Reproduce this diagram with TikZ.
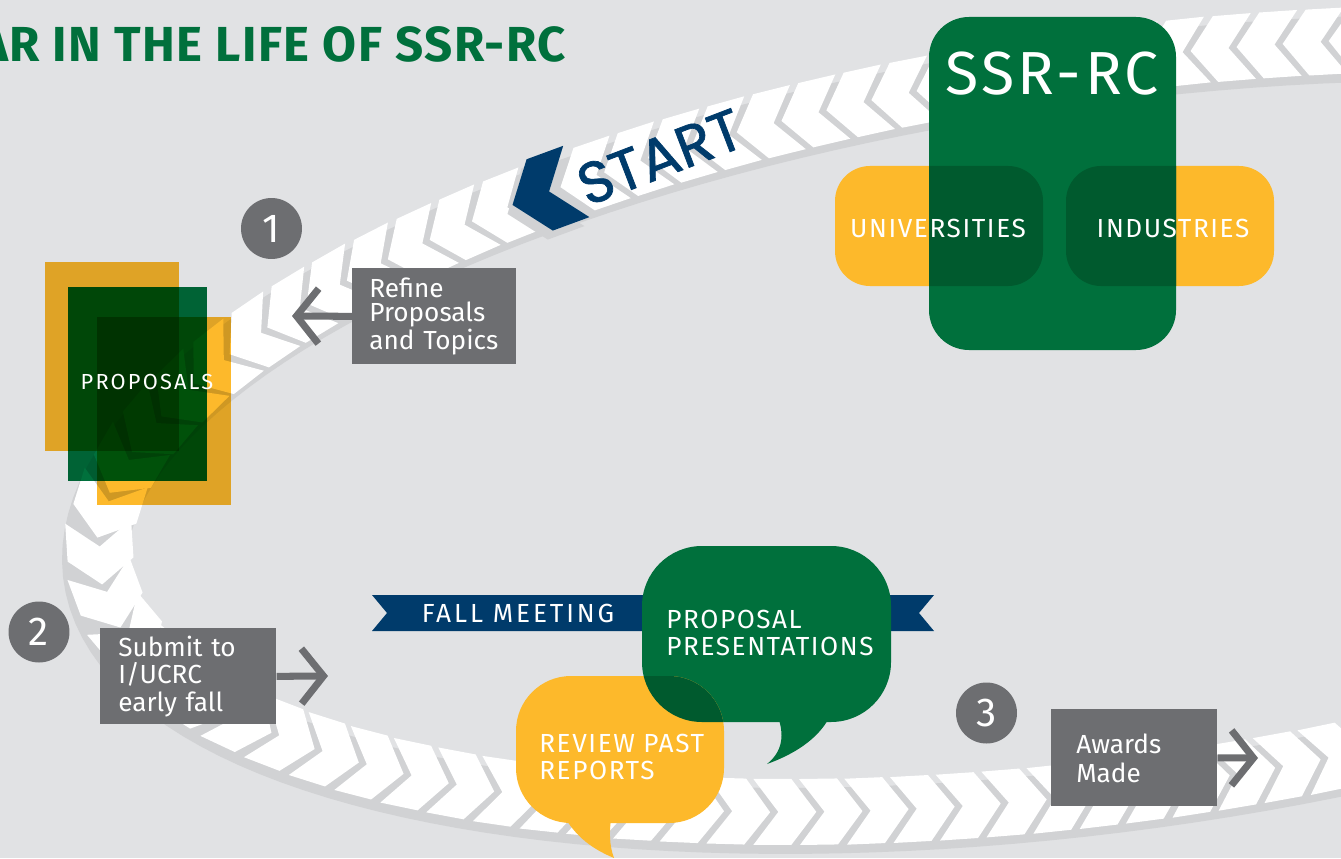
\documentclass[tikz,border=0pt]{standalone}
\usepackage{fontspec}
\setmainfont{Fira Sans}
\newfontfamily\capsfont[LetterSpace=6]{Fira Sans}
\newfontfamily\startfont[FakeBold=1.2]{Poppins}
\usetikzlibrary{arrows.meta,decorations.markings}

\definecolor{bggray}{HTML}{E1E2E4}
\definecolor{trackgray}{HTML}{D1D2D4}
\definecolor{ssrgreen}{HTML}{00703C}
\definecolor{deepgreen}{HTML}{005A2E}
\definecolor{ssryellow}{HTML}{FDB92B}
\definecolor{navy}{HTML}{003B6B}
\definecolor{boxgray}{HTML}{6D6E71}

\tikzset{
  stepbox/.style={anchor=north west, fill=boxgray, text=white, align=left, inner sep=0pt, minimum height=1.92cm, font=\fontsize{14.9}{15}\selectfont},
  stepnum/.style={circle, fill=boxgray, text=white, inner sep=0pt, minimum size=1.22cm, font=\fontsize{23}{23}\selectfont},
  pointer/.style={boxgray, line width=4pt, -{Straight Barb[length=0.44cm, width=1.1cm]}},
  captext/.style={text=white, align=left, inner sep=0pt, font=\capsfont\fontsize{14.9}{15.5}\selectfont}
}

\begin{document}
\begin{tikzpicture}[x=0.02cm, y=-0.02cm]
        \useasboundingbox (0,0) rectangle (1341,858);
        \clip (0,0) rectangle (1341,858);
        \fill[bggray] (0,0) rectangle (1341,858);

        %track
        \draw[trackgray, line width=1.32cm, shift={(-5,9)}] plot[domain=124.3:484.3, samples=181, variable=\t] ({1118+1018*cos(\t)}, {425.3-124.7*cos(\t)-366*sin(\t)});
        \path[decorate, decoration={markings,
            mark=between positions 0.01 and 0.995 step 0.01 with {
              \fill[white] (-0.63cm,0.66cm) -- (-0.13cm,0cm) -- (-0.63cm,-0.66cm) -- (0.13cm,-0.66cm) -- (0.63cm,0cm) -- (0.13cm,0.66cm) -- cycle;}}]
            plot[domain=124.3:484.3, samples=181, variable=\t] ({1118+1018*cos(\t)}, {425.3-124.7*cos(\t)-366*sin(\t)});

        %start
        \fill[trackgray, shift={(539.4,202.2)}, rotate=200.2] (-0.68cm,0.76cm) -- (-0.1cm,0cm) -- (-0.68cm,-0.76cm) -- (0.1cm,-0.76cm) -- (0.68cm,0cm) -- (0.1cm,0.76cm) -- cycle;
        \fill[navy, shift={(544.4,193.2)}, rotate=200.2] (-0.68cm,0.76cm) -- (-0.1cm,0cm) -- (-0.68cm,-0.76cm) -- (0.1cm,-0.76cm) -- (0.68cm,0cm) -- (0.1cm,0.76cm) -- cycle;
        \node[rotate=21, text=navy, font=\startfont\fontsize{33}{33}\selectfont] (start) at (660,157) {START};

        %proposals
        \begin{scope}[blend mode=multiply]
        \fill[ssryellow] (45,262) rectangle (179,451);
        \fill[ssryellow] (97,317) rectangle (231,505);
        \fill[ssrgreen] (68,287) rectangle (207,481);
        \end{scope}
        \node[text=white, font=\capsfont\addfontfeature{LetterSpace=10}\fontsize{12.4}{13}\selectfont] (proposals) at (147,382) {PROPOSALS};

        %steps
        \node[stepnum] (one) at (271.5,228.5) {1};
        \node[stepnum] (two) at (39,632) {2};
        \node[stepnum] (three) at (986.5,713) {3};

        \node[stepbox, minimum width=3.28cm, text width=2.6cm, font=\fontsize{14.9}{14.2}\selectfont] (refine) at (352,268) {Refine\\Proposals\\and Topics};
        \node[stepbox, minimum width=3.52cm, text width=2.8cm, font=\fontsize{14.9}{15.6}\selectfont] (submit) at (100,628) {Submit to\\I/UCRC\\early fall};
        \node[stepbox, minimum width=3.32cm, minimum height=1.94cm, text width=2.32cm, font=\fontsize{14.9}{16.5}\selectfont] (awards) at (1051,709) {Awards\\Made};

        \coordinate (refinetip) at (292,316);
        \coordinate (submittip) at (328,676);
        \coordinate (awardstip) at (1258,758);
        \draw[pointer] (refine.west) -- (refinetip);
        \draw[pointer] (submit.east) -- (submittip);
        \draw[pointer] (awards.east) -- (awardstip);

        %ssr-rc
        \fill[ssryellow, rounded corners=0.7cm] (835,166) rectangle (1043,286);
        \fill[ssryellow, rounded corners=0.7cm] (1066,166) rectangle (1274,286);
        \fill[ssrgreen, rounded corners=0.8cm] (929,17) rectangle (1176,350);
        \begin{scope}
        \clip[rounded corners=0.8cm] (929,17) rectangle (1176,350);
        \fill[deepgreen, rounded corners=0.7cm] (835,166) rectangle (1043,286);
        \fill[deepgreen, rounded corners=0.7cm] (1066,166) rectangle (1274,286);
        \end{scope}
        \node[text=white, font=\capsfont\fontsize{34.6}{35}\selectfont] (ssr) at (1052,74) {SSR-RC};
        \node[captext] (univ) at (938,228) {UNIVERSITIES};
        \node[captext] (indus) at (1173,228) {INDUSTRIES};

        %fall meeting
        \fill[navy] (372,595) -- (934,595) -- (919,613) -- (934,631) -- (372,631) -- (387,613) -- cycle;
        \node[captext, font=\capsfont\addfontfeature{LetterSpace=11}\fontsize{14.9}{15.5}\selectfont] (fall) at (518,613) {FALL MEETING};

        \fill[ssrgreen, rounded corners=1.2cm] (642,546) rectangle (891,722);
        \fill[ssrgreen] (776,712) .. controls (786,735) and (782,752) .. (767,764) .. controls (800,752) and (822,735) .. (832,712) -- cycle;
        \fill[ssryellow, rounded corners=1.1cm] (516,676) rectangle (724,823);
        \fill[ssryellow] (562,812) .. controls (575,838) and (595,850) .. (614,858) .. controls (609,845) and (609,830) .. (612,812) -- cycle;
        \begin{scope}
        \clip[rounded corners=1.2cm] (642,546) rectangle (891,722);
        \fill[deepgreen, rounded corners=1.1cm] (516,676) rectangle (724,823);
        \end{scope}
        \node[captext, anchor=west] (present) at (666,633) {PROPOSAL\\PRESENTATIONS};
        \node[captext, anchor=west] (review) at (539,757) {REVIEW PAST\\REPORTS};

        %title
        \node[anchor=base east, inner sep=0pt, text=ssrgreen, font=\bfseries\addfontfeature{LetterSpace=3}\fontsize{28}{28}\selectfont] (title) at (566,62) {A YEAR IN THE LIFE OF SSR-RC};
\end{tikzpicture}
\end{document}
